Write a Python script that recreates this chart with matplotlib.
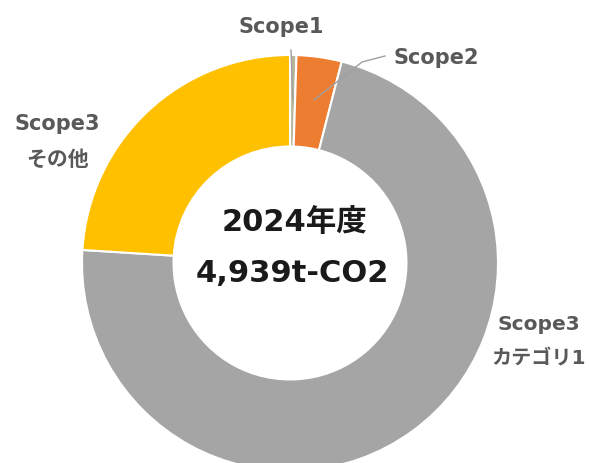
import matplotlib.pyplot as plt

# Latin はメイリオ風に幅広の DejaVu、日本語は Noto CJK
plt.rcParams['font.family'] = ['DejaVu Sans', 'Noto Sans CJK JP']

# 排出量の内訳 (%)
categories = ['Scope1', 'Scope2', 'Scope3\nカテゴリ1', 'Scope3\nその他']
shares = [0.5, 3.5, 72.0, 24.0]
colors = ['#B8B89C', '#ED7D31', '#A5A5A5', '#FFC000']
year_label = '2024年度'
total_label = '4,939t-CO2'

fig = plt.figure(figsize=(5.89, 4.63), dpi=100)
ax = fig.add_axes([0, 0, 1, 1])

# ドーナツ (画像のピクセル座標系で配置)
cx, cy, r = 290, 463 - 263, 208
ax.pie(shares, colors=colors, startangle=90, counterclock=False,
       center=(cx, cy), radius=r,
       wedgeprops=dict(width=r * 0.44, edgecolor='white', linewidth=1.5))

ax.set_xlim(0, 589)
ax.set_ylim(0, 463)
ax.set_aspect('equal')
ax.axis('off')

# 中央のテキスト
ax.text(cx + 4, 463 - 222, year_label, ha='center', va='center',
        fontsize=22, fontweight='bold', color='#1a1a1a')
ax.text(cx + 2, 463 - 273, total_label, ha='center', va='center',
        fontsize=22, fontweight='bold', color='#1a1a1a')

# ラベル
lab_color = '#595959'
ax.text(281, 463 - 27, categories[0], ha='center', va='center',
        fontsize=15, fontweight='bold', color=lab_color)
ax.plot([291, 293], [463 - 50, 463 - 100], color='#A0A0A0', lw=1)

ax.text(436, 463 - 58, categories[1], ha='center', va='center',
        fontsize=15, fontweight='bold', color=lab_color)
ax.plot([385, 362, 314], [463 - 56, 463 - 62, 463 - 100], color='#A0A0A0', lw=1)

ax.text(539, 463 - 342, categories[2], ha='center', va='center',
        fontsize=14.5, fontweight='bold', color=lab_color, linespacing=2.0)
ax.text(57, 463 - 142, categories[3], ha='center', va='center',
        fontsize=15, fontweight='bold', color=lab_color, linespacing=2.0)

plt.savefig('out.png', dpi=100)
